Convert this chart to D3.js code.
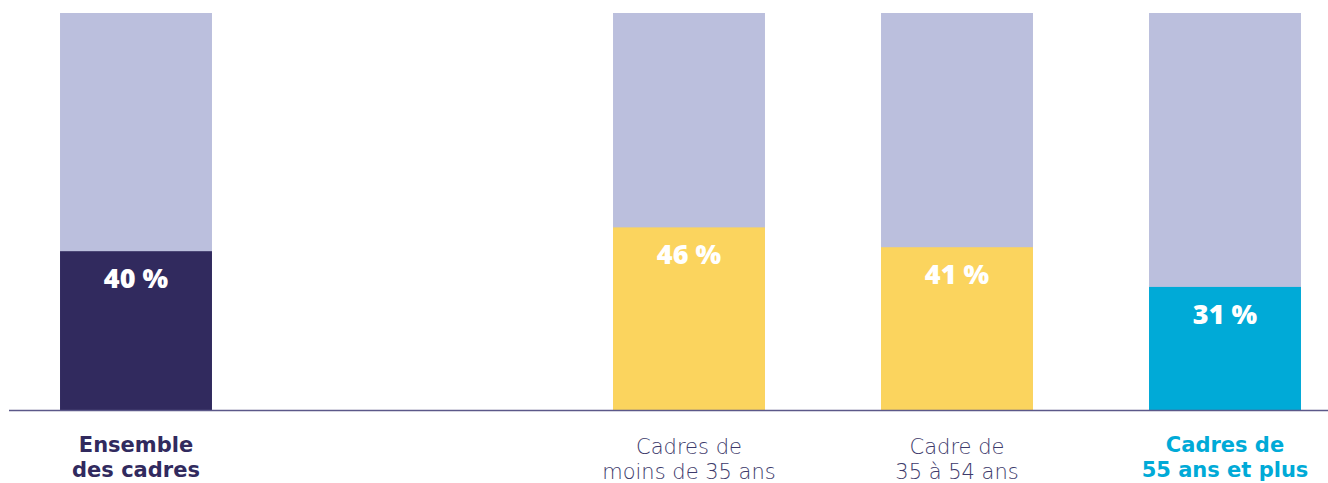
<!DOCTYPE html>
<html>
<head>
<meta charset="utf-8">
<script src="https://cdn.jsdelivr.net/npm/d3@7"></script>
<style>
  body { margin: 0; background: #fff; }
  svg { display: block; }
</style>
</head>
<body>
<div id="chart-area"></div>
<script>
// cadres : part par tranche d'age

const WIDTH = 1328
const HEIGHT = 483
const MARGIN = {LEFT:9, TOP:13, BASE:410}

const totalCat = ["Ensemble des cadres"]
const ageCats = ["Cadres de moins de 35 ans", "Cadre de 35 à 54 ans", "Cadres de 55 ans et plus"]
const totalValues = [40]
const ageValues = [46, 41, 31]
const labelLines = [
  ["Ensemble", "des cadres"],
  ["Cadres de", "moins de 35 ans"],
  ["Cadre de", "35 à 54 ans"],
  ["Cadres de", "55 ans et plus"]
]
const barColors = ["#312a5e", "#fbd45e", "#fbd45e", "#00aad7"]
const labelStyle = [
  {color:"#312a5e", weight:700, y:452},
  {color:"#3d3a6b", weight:200, y:454},
  {color:"#3d3a6b", weight:200, y:454},
  {color:"#00aad7", weight:700, y:452}
]

const svg = d3.select("#chart-area").append("svg")
    .attr("width", WIDTH)
    .attr("height", HEIGHT)

const y = d3.scaleLinear()
    .domain([0, 100])
    .range([MARGIN.BASE, MARGIN.TOP])

// two band scales : total apart, age groups together
const xTotal = d3.scaleBand()
    .domain(totalCat)
    .range([2, 270])
    .paddingInner(0.433)
    .paddingOuter(0.2165)

const xAge = d3.scaleBand()
    .domain(ageCats)
    .range([555, 1359])
    .paddingInner(0.433)
    .paddingOuter(0.2165)

const data = totalCat.map((c, i) => ({name:c, value:totalValues[i], x:xTotal(c), w:xTotal.bandwidth()}))
  .concat(ageCats.map((c, i) => ({name:c, value:ageValues[i], x:xAge(c), w:xAge.bandwidth()})))
data.forEach((d, i) => { d.color = barColors[i]; d.lines = labelLines[i]; d.style = labelStyle[i] })

const g = svg.append("g")

// background part (100 %)
g.selectAll("rect.rest")
  .data(data)
  .enter().append("rect")
    .attr("class", "rest")
    .attr("x", d => d.x)
    .attr("y", y(100))
    .attr("width", d => d.w)
    .attr("height", y(0) - y(100))
    .attr("fill", "#bbbfdd")

g.selectAll("rect.val")
  .data(data)
  .enter().append("rect")
    .attr("class", "val")
    .attr("x", d => d.x)
    .attr("y", d => y(d.value))
    .attr("width", d => d.w)
    .attr("height", d => y(0) - y(d.value))
    .attr("fill", d => d.color)

g.selectAll("text.val")
  .data(data)
  .enter().append("text")
    .attr("class", "val")
    .attr("x", d => d.x + d.w / 2)
    .attr("y", d => y(d.value) + 37)
    .attr("text-anchor", "middle")
    .attr("font-family", "'Open Sans', sans-serif")
    .attr("font-weight", 800)
    .attr("font-size", "27px")
    .attr("fill", "#fff")
    .text(d => d.value + " %")

// baseline
svg.append("line")
    .attr("x1", MARGIN.LEFT)
    .attr("x2", WIDTH)
    .attr("y1", y(0) + 0.5)
    .attr("y2", y(0) + 0.5)
    .attr("stroke", "#5b5889")
    .attr("stroke-width", 1.5)

// category labels
const labels = g.selectAll("text.cat")
  .data(data)
  .enter().append("text")
    .attr("class", "cat")
    .attr("x", d => d.x + d.w / 2)
    .attr("y", d => d.style.y)
    .attr("text-anchor", "middle")
    .attr("font-family", "'DejaVu Sans', sans-serif")
    .attr("font-size", "21px")
    .attr("font-weight", d => d.style.weight)
    .attr("fill", d => d.style.color)

labels.selectAll("tspan")
  .data(d => d.lines.map(l => ({l, x:d.x + d.w / 2})))
  .enter().append("tspan")
    .attr("x", t => t.x)
    .attr("dy", (t, i) => i === 0 ? 0 : 25)
    .text(t => t.l)
</script>
</body>
</html>
